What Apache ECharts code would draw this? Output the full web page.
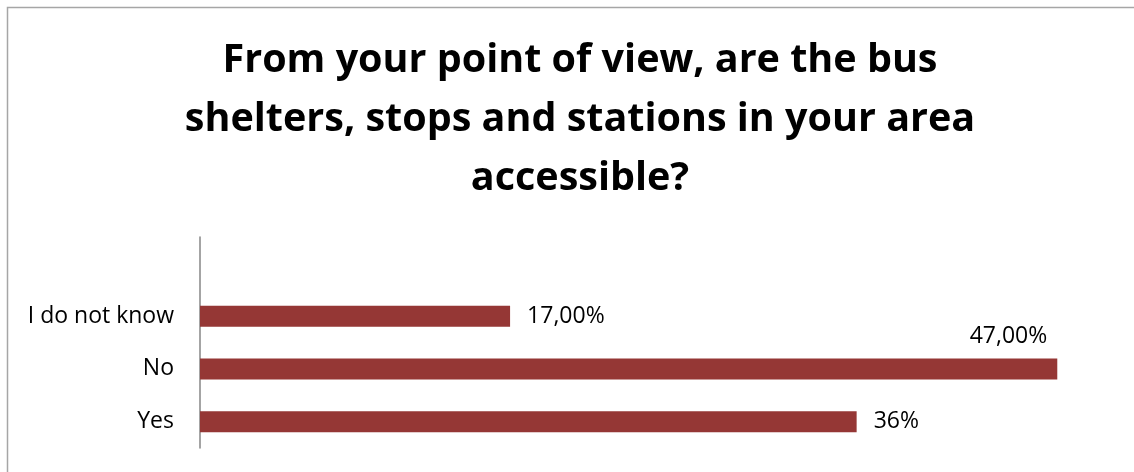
<!DOCTYPE html>
<html>
<head>
<meta charset="utf-8">
<script src="https://cdn.jsdelivr.net/npm/echarts@6/dist/echarts.min.js"></script>
<style>
  html, body { margin: 0; padding: 0; background: #fff; overflow: hidden; }
  #chart { width: 1134px; height: 472px; }
</style>
</head>
<body>
<div id="chart"></div>
<script>
// Survey answers, bottom to top; the blank top slot keeps the axis spacing
const categories = ['Yes', 'No', 'I do not know', ''];
const shares = [36, 47, 17, null];
const labelDecimals = [0, 2, 2, 0];
const titleLines = [
  'From your point of view, are the bus',
  'shelters, stops and stations in your area',
  'accessible?'
];

const barColor = '#953735';
const textFont = 'Open Sans';

function formatShare(value, decimals) {
  return value.toFixed(decimals).replace('.', ',') + '%';
}

const chart = echarts.init(document.getElementById('chart'), null, { renderer: 'canvas' });

chart.setOption({
  backgroundColor: '#fff',
  animation: false,
  graphic: [{
    // chart frame: top and left edges only
    type: 'polyline',
    shape: { points: [[7.5, 472], [7.5, 7.5], [1134, 7.5]] },
    style: { fill: null, stroke: '#a6a6a6', lineWidth: 1.5 },
    silent: true
  }],
  title: {
    text: titleLines.join('\n'),
    left: 575,
    top: 26,
    textAlign: 'center',
    textStyle: {
      fontFamily: textFont,
      fontWeight: 'bold',
      fontSize: 39.5,
      lineHeight: 59,
      color: '#000'
    }
  },
  grid: { left: 200, right: 22, top: 237, bottom: 24, containLabel: false },
  xAxis: {
    type: 'value',
    min: 0,
    max: 50,
    show: false
  },
  yAxis: {
    type: 'category',
    data: categories,
    axisLine: { show: true, lineStyle: { color: '#868686', width: 1.5 } },
    axisTick: { show: false },
    axisLabel: {
      margin: 26,
      fontFamily: textFont,
      fontSize: 23,
      color: '#000'
    },
    splitLine: { show: false }
  },
  series: [{
    type: 'bar',
    data: shares.map((v, i) => {
      const item = { value: v };
      if (categories[i] === 'No') {
        item.label = { position: 'insideRight', distance: 10, offset: [0, -32] };
      }
      return item;
    }),
    barWidth: 21,
    itemStyle: { color: barColor },
    label: {
      show: true,
      position: 'right',
      distance: 17,
      fontFamily: textFont,
      fontSize: 23,
      color: '#000',
      formatter: p => p.value == null ? '' : formatShare(p.value, labelDecimals[p.dataIndex])
    }
  }]
});
</script>
</body>
</html>
